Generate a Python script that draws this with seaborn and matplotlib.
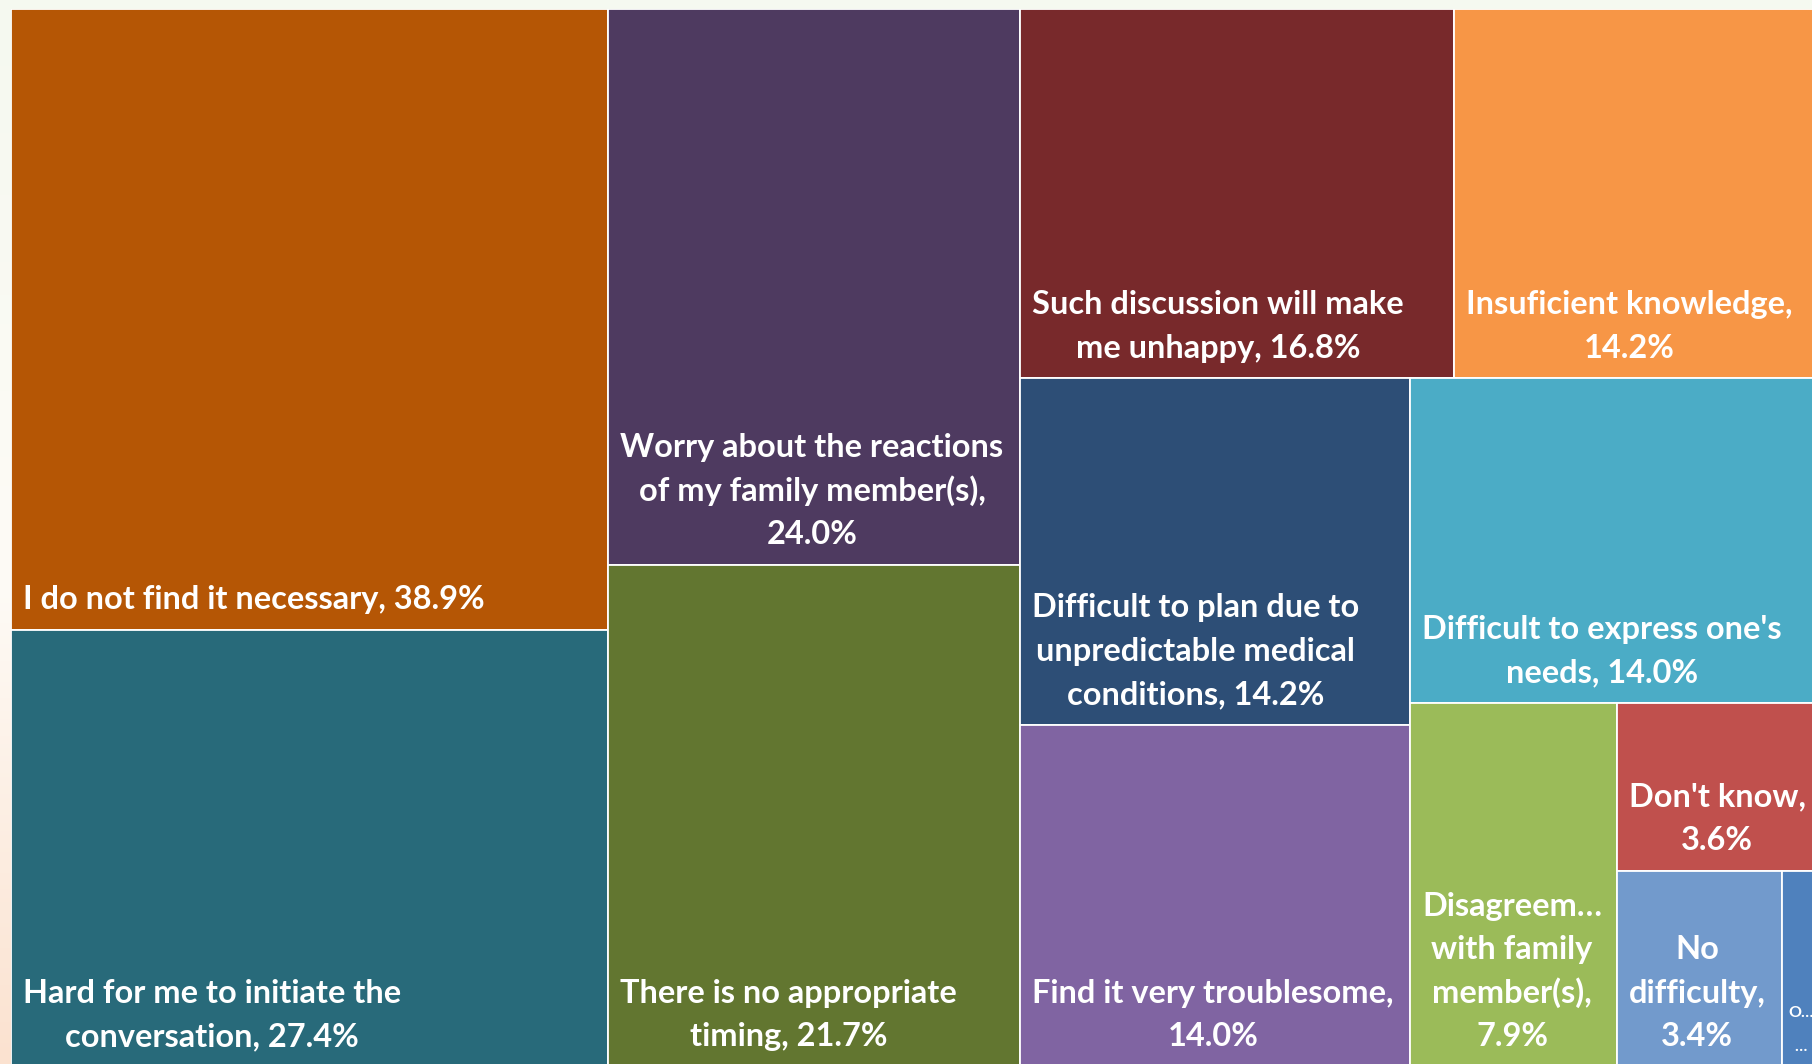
import numpy as np
import matplotlib
matplotlib.use("Agg")
import matplotlib.pyplot as plt
import seaborn as sns
from matplotlib.patches import Rectangle
from matplotlib.colors import LinearSegmentedColormap

# Reasons given for not discussing end-of-life care (share of respondents, %)
categories = [
    "I do not find it necessary",
    "Hard for me to initiate the conversation",
    "Worry about the reactions of my family member(s)",
    "There is no appropriate timing",
    "Such discussion will make me unhappy",
    "Insuficient knowledge",
    "Difficult to plan due to unpredictable medical conditions",
    "Find it very troublesome",
    "Difficult to express one's needs",
    "Disagreement with family member(s)",
    "Don't know",
    "No difficulty",
    "Others",
]
values = [38.9, 27.4, 24.0, 21.7, 16.8, 14.2, 14.2, 14.0, 14.0, 7.9, 3.6, 3.4, 0.8]

# Wrapped tile labels; "{}" receives the formatted value
label_templates = [
    "I do not find it necessary, {}",
    "Hard for me to initiate the\nconversation, {}",
    "Worry about the reactions\nof my family member(s),\n{}",
    "There is no appropriate\ntiming, {}",
    "Such discussion will make\nme unhappy, {}",
    "Insuficient knowledge,\n{}",
    "Difficult to plan due to\nunpredictable medical\nconditions, {}",
    "Find it very troublesome,\n{}",
    "Difficult to express one's\nneeds, {}",
    "Disagreem\u2026\nwith family\nmember(s),\n{}",
    "Don't know,\n{}",
    "No\ndifficulty,\n{}",
    "O\u2026\n\u2026",
]

tile_colors = ["#B55605", "#286A7A", "#4E3A60", "#627630", "#78292B", "#F79646",
               "#2D4E76", "#8064A2", "#4BACC6", "#9BBB59", "#C0504D", "#729ACC",
               "#4F81BD"]

sns.set_theme(style="white")
plt.rcParams["font.family"] = ["Lato", "DejaVu Sans"]
palette = sns.color_palette(tile_colors)


def worst_ratio(row, side):
    s = sum(row)
    return max(side ** 2 * max(row) / s ** 2, s ** 2 / (side ** 2 * min(row)))


def squarify(sizes, x, y, w, h):
    """Squarified treemap layout (y grows downward)."""
    total = sum(sizes)
    areas = [s * w * h / total for s in sizes]
    rects = []
    i = 0
    while i < len(areas):
        side = min(w, h)
        row = [areas[i]]
        j = i + 1
        while j < len(areas) and worst_ratio(row + [areas[j]], side) <= worst_ratio(row, side):
            row.append(areas[j])
            j += 1
        s = sum(row)
        if w >= h:
            cw = s / h
            cy = y
            for a in row:
                rh = a / cw
                rects.append((x, cy, cw, rh))
                cy += rh
            x += cw
            w -= cw
        else:
            rh = s / w
            cx = x
            for a in row:
                rw = a / rh
                rects.append((cx, y, rw, rh))
                cx += rw
            y += rh
            h -= rh
        i = j
    return rects


FW, FH = 1812, 1064
fig = plt.figure(figsize=(FW / 100, FH / 100), dpi=100)

# soft page background
bg = fig.add_axes([0, 0, 1, 1], zorder=-5)
bg_cmap = LinearSegmentedColormap.from_list(
    "page", [(0.0, "#F5F9F0"), (0.55, "#FEFBF6"), (1.0, "#FBE2D0")])
bg.imshow(np.linspace(0, 1, 256).reshape(-1, 1), cmap=bg_cmap, aspect="auto",
          extent=[0, 1, 1, 0])
bg.set_axis_off()

# treemap area (runs slightly past the right and bottom edges of the canvas)
left_px, top_px = 11.3, 9.3
W, H = 1809.5, 1057.5
ax = fig.add_axes([left_px / FW, (FH - top_px - H) / FH, W / FW, H / FH])
ax.set_xlim(0, W)
ax.set_ylim(H, 0)
ax.set_axis_off()

rects = squarify(values, 0, 0, W, H)
for (x0, y0, w, h), col in zip(rects, palette):
    ax.add_patch(Rectangle((x0, y0), w, h, facecolor=col, edgecolor="white",
                           linewidth=1.3))

fig.canvas.draw()
renderer = fig.canvas.get_renderer()
px_per_unit = ax.get_window_extent(renderer).width / W

for (x0, y0, w, h), tmpl, v in zip(rects, label_templates, values):
    text = tmpl.format(f"{v:.1f}%")
    lines = text.split("\n")
    small = w < 60
    size = 11.5 if small else 23.4
    spacing = 34 if small else 43.5
    pad = 6 if small else 12
    base = y0 + h - (16 if small else 20.5)
    objs = [ax.text(0, 0, ln, color="white", fontsize=size, fontweight="bold",
                    ha="center", va="baseline") for ln in lines]
    widths = [o.get_window_extent(renderer).width / px_per_unit for o in objs]
    cx = x0 + pad + max(widths) / 2
    n = len(objs)
    for k, o in enumerate(objs):
        o.set_position((cx, base - (n - 1 - k) * spacing))

fig.savefig("out.png", dpi=100)
